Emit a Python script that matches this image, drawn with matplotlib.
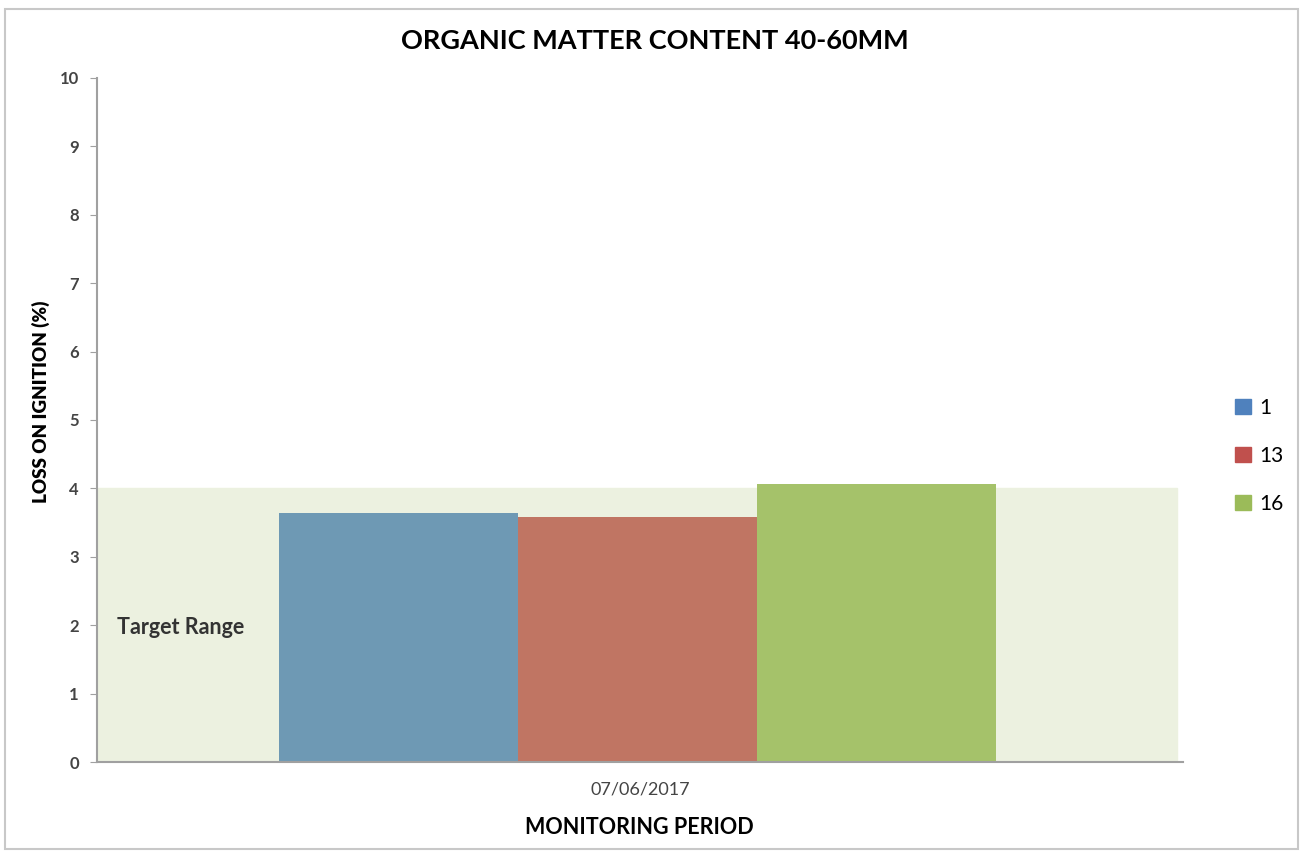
import matplotlib.pyplot as plt
from matplotlib.patches import Patch, Rectangle

plt.rcParams['font.family'] = ['Lato', 'DejaVu Sans']

period = ['07/06/2017']
series = ['1', '13', '16']
values = [3.64, 3.58, 4.06]
target_low, target_high = 0, 4

bar_colors = ['#6e99b4', '#c07563', '#a5c26a']
legend_colors = ['#4f81bd', '#c0504d', '#9bbb59']

fig = plt.figure(figsize=(13.05, 8.52), dpi=100)
ax = fig.add_axes([0.0743, 0.1056, 0.832, 0.8029])

# target band
ax.axhspan(target_low, target_high, xmin=0, xmax=0.995, color='#ecf1e0', zorder=0)

width = 0.22
offsets = [-0.222, -0.002, 0.218]
for i, (s, v) in enumerate(zip(series, values)):
    ax.bar(0 + offsets[i], v, width=width, color=bar_colors[i], zorder=2, label=s)

ax.set_xlim(-0.5, 0.5)
ax.set_ylim(0, 10)
ax.set_yticks(range(0, 11))
ax.set_xticks([0])
ax.set_xticklabels(period, fontsize=13, color='#444444')
ax.tick_params(axis='x', length=0, pad=14)
ax.tick_params(axis='y', length=5, color='#a0a0a0', labelsize=12, labelcolor='#444444', pad=8)
for lbl in ax.get_yticklabels():
    lbl.set_fontweight('bold')

for sp in ['top', 'right']:
    ax.spines[sp].set_visible(False)
for sp in ['left', 'bottom']:
    ax.spines[sp].set_color('#a0a0a0')
    ax.spines[sp].set_linewidth(1.5)

ax.text(-0.482, 1.96, 'Target Range', fontsize=15.5, fontweight='bold', color='#333333',
        va='center', ha='left', zorder=3)

ax.set_title('ORGANIC MATTER CONTENT 40-60MM', fontsize=19.5, fontweight='bold', pad=21, x=0.514)
ax.set_xlabel('MONITORING PERIOD', fontsize=15.5, fontweight='bold', labelpad=14)
ax.set_ylabel('LOSS ON IGNITION (%)', fontsize=13.5, fontweight='heavy', labelpad=8)
ax.yaxis.set_label_coords(-0.043, 0.526)

handles = [Patch(color=c, label=s) for c, s in zip(legend_colors, series)]
fig.legend(handles=handles, loc='center left', bbox_to_anchor=(0.932, 0.465),
           frameon=False, fontsize=15, handlelength=0.75, handleheight=0.75,
           handletextpad=0.4, labelspacing=1.35)

# outer frame
fig.patches.append(Rectangle((0.004, 0.004), 0.991, 0.985, transform=fig.transFigure,
                             fill=False, edgecolor='#c8c8c8', linewidth=1.5))

fig.savefig('out.png', dpi=100)
